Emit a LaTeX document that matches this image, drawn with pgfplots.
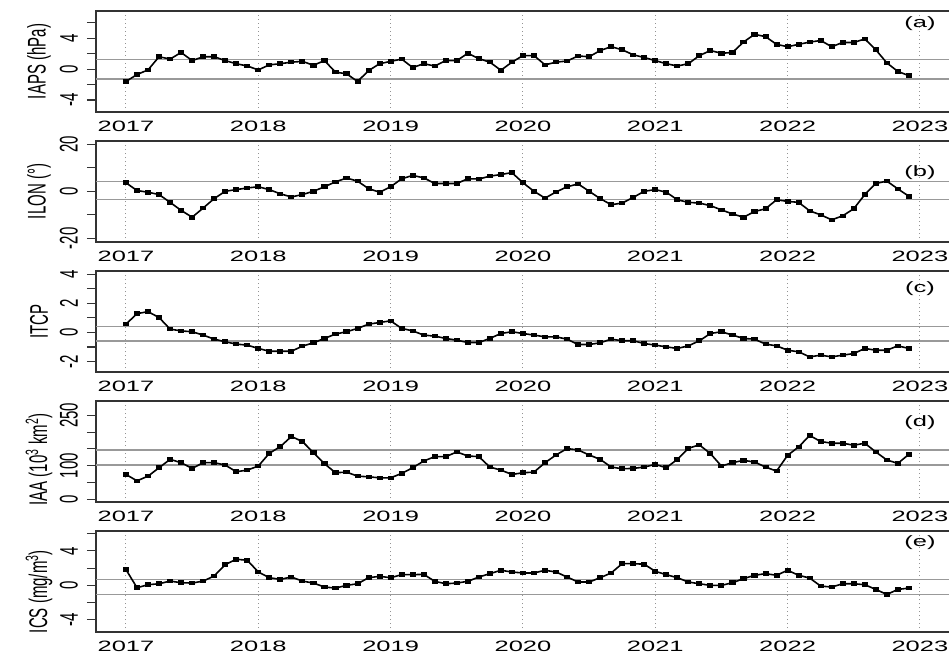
\documentclass[border=0pt]{standalone}
\usepackage{fontspec}
\setmainfont{Liberation Sans}
\usepackage{graphicx}
\usepackage{pgfplots}
\usepackage{pgfplotstable}
\pgfplotsset{compat=1.18}

% text is set wide (horizontal stretch); rotated labels get the stretch across
\newcommand{\hs}[1]{\scalebox{1.7}[1]{#1}}
\newcommand{\vs}[1]{\scalebox{1}[1.7]{#1}}

% monthly indices, Jan 2017 (m=0) to Dec 2022 (m=71)
\pgfplotstableread{
m  iaps   ilon   itcp   iaa   ics
0  -1.6   3.6    0.57   74    1.83
1  -0.7   0.3    1.30   55   -0.27
2  -0.1  -0.4    1.43   69    0.08
3   1.6  -1.4    1.03   94    0.19
4   1.3  -4.7    0.23  119    0.50
5   2.15 -8.1    0.11  109    0.31
6   1.1  -11     0.05   92    0.27
7   1.6  -7.1   -0.18  109    0.50
8   1.6  -3.1   -0.46  109    1.09
9   1.1   0     -0.64  102    2.41
10  0.7   0.7   -0.80   82    3.03
11  0.4   1.4   -0.87   87    2.91
12 -0.1   1.9   -1.10   99    1.55
13  0.55  0.7   -1.29  137    0.89
14  0.7  -1.1   -1.29  157    0.70
15  0.9  -2.4   -1.29  187    0.97
16  1.0  -1.4   -0.94  172    0.50
17  0.5   0     -0.71  139    0.27
18  1.1   1.9   -0.41  106   -0.19
19 -0.4   4.0   -0.11   79   -0.31
20 -0.6   5.6    0.05   81    0.00
21 -1.6   4.3    0.28   69    0.19
22 -0.2   1.1    0.57   67    0.89
23  0.7  -0.4    0.69   64    1.05
24  1.0   1.9    0.80   64    0.89
25  1.3   5.3    0.28   77    1.24
26  0.2   6.7    0.11   94    1.24
27  0.7   5.7   -0.18  114    1.28
28  0.4   3.3   -0.25  127    0.47
29  1.1   3.3   -0.41  127    0.19
30  1.1   3.3   -0.53  141    0.27
31  2.05  5.3   -0.69  129    0.47
32  1.35  5.2   -0.69  127    0.97
33  0.9   6.4   -0.41   96    1.36
34 -0.15  7.1   -0.07   87    1.75
35  0.9   7.9    0.05   74    1.55
36  1.75  3.6   -0.07   79    1.44
37  1.75  0     -0.18   81    1.44
38  0.55 -2.9   -0.30  109    1.75
39  0.9  -0.3   -0.30  132    1.55
40  1.05  1.9   -0.46  151    0.97
41  1.7   3.1   -0.83  147    0.39
42  1.6   0     -0.83  132    0.39
43  2.4  -3.1   -0.71  119    0.89
44  2.9  -5.7   -0.46   96    1.44
45  2.5  -5.0   -0.57   91    2.52
46  1.85 -2.6   -0.57   92    2.52
47  1.5   0     -0.76   96    2.45
48  1.1   0.7   -0.87  104    1.63
49  0.7  -0.4   -0.99   94    1.24
50  0.4  -3.6   -1.10  119    0.89
51  0.7  -4.7   -0.92  152    0.39
52  1.75 -5.0   -0.57  162    0.19
53  2.4  -6.1   -0.07  136    0.00
54  2.05 -7.9    0.05   99    0.00
55  2.15 -9.6   -0.18  109    0.31
56  3.5  -11    -0.41  116    0.78
57  4.5  -8.6   -0.46  111    1.17
58  4.2  -7.4   -0.80   96    1.36
59  3.2  -3.6   -0.92   84    1.17
60  2.9  -4.3   -1.22  131    1.75
61  3.2  -4.7   -1.33  156    1.17
62  3.5  -8.3   -1.68  190    0.85
63  3.7  -10    -1.56  172   -0.08
64  2.9  -12.1  -1.68  167   -0.19
65  3.45 -10.4  -1.56  167    0.19
66  3.45 -7.4   -1.45  161    0.19
67  3.9  -1.4   -1.10  167    0.08
68  2.5   3.3   -1.22  141   -0.47
69  0.8   4.3   -1.22  117   -1.05
70 -0.3   1.0   -0.92  107   -0.47
71 -0.85 -2.1   -1.10  134   -0.31
}\indices

\pgfplotsset{
  panel/.style={
    scale only axis, width=857pt, height=101pt,
    anchor=north west,
    xmin=-2.72, xmax=75,
    xtick={0,12,...,72},
    xticklabels={\hs{2017},\hs{2018},\hs{2019},\hs{2020},\hs{2021},\hs{2022},\hs{2023}},
    xmajorgrids,
    major grid style={gray!85, line width=1pt, dash pattern=on 1pt off 3pt},
    axis line style={draw=black!80, line width=1.3pt},
    xtick style={draw=none},
    ytick style={draw=black!80, line width=1.1pt},
    tick align=outside, ytick pos=left, xtick pos=bottom,
    major tick length=9pt,
    yticklabel style={rotate=90, anchor=south, inner sep=0pt},
    yticklabel shift=9pt,
    xticklabel style={anchor=north, inner sep=0pt},
    every axis y label/.style={at={(rel axis cs:0,0.5)}, xshift=-57pt, rotate=90, anchor=center},
    clip=false,
  },
  refline/.style={black!40, line width=1.2pt, forget plot},
  series/.style={black, line width=1.6pt, mark=square*, mark size=1.5pt,
    mark options={xscale=1.5, fill=black, solid}},
}

\begin{document}
\fontsize{15}{18}\selectfont
\begin{tikzpicture}

% (a) IAPS
\begin{axis}[panel, at={(96pt,-11pt)},
  ymin=-5.55, ymax=7.52,
  ytick={-4,-2,0,2,4,6}, yticklabels={\vs{-4},,\vs{0},,\vs{4},},
  ylabel={\vs{IAPS (hPa)}}]
  \addplot[refline] coordinates {(-2.72,1.29) (75,1.29)};
  \addplot[refline] coordinates {(-2.72,-1.29) (75,-1.29)};
  \addplot[series] table[x=m, y=iaps] {\indices};
  \node at (axis cs:72,5.85) {\hs{(a)}};
\end{axis}

% (b) ILON
\begin{axis}[panel, at={(96pt,-141pt)},
  ymin=-21.5, ymax=21.3,
  ytick={-20,-10,0,10,20}, yticklabels={\vs{-20},,\vs{0},,\vs{20}},
  ylabel={\vs{ILON (°)}}]
  \addplot[refline] coordinates {(-2.72,4.3) (75,4.3)};
  \addplot[refline] coordinates {(-2.72,-3.6) (75,-3.6)};
  \addplot[series] table[x=m, y=ilon] {\indices};
  \node at (axis cs:72,8) {\hs{(b)}};
\end{axis}

% (c) ITCP
\begin{axis}[panel, at={(96pt,-271pt)},
  ymin=-2.72, ymax=4.23,
  ytick={-2,-1,0,1,2,3,4}, yticklabels={\vs{-2},,\vs{0},,\vs{2},,\vs{4}},
  ylabel={\vs{ITCP}}]
  \addplot[refline] coordinates {(-2.72,0.43) (75,0.43)};
  \addplot[refline] coordinates {(-2.72,-0.58) (75,-0.58)};
  \addplot[series] table[x=m, y=itcp] {\indices};
  \node at (axis cs:72,3.0) {\hs{(c)}};
\end{axis}

% (d) IAA
\begin{axis}[panel, at={(96pt,-401pt)},
  ymin=-8, ymax=292.6,
  ytick={0,50,100,150,200,250}, yticklabels={\vs{0},,\vs{100},,,\vs{250}},
  ylabel={\vs{IAA (10\textsuperscript{3} km\textsuperscript{2})}},
  every axis y label/.append style={xshift=-8pt}]
  \addplot[refline] coordinates {(-2.72,147) (75,147)};
  \addplot[refline] coordinates {(-2.72,102) (75,102)};
  \addplot[series] table[x=m, y=iaa] {\indices};
  \node at (axis cs:72,227) {\hs{(d)}};
\end{axis}

% (e) ICS
\begin{axis}[panel, at={(96pt,-531pt)},
  ymin=-5.4, ymax=6.3,
  ytick={-4,-2,0,2,4,6}, yticklabels={\vs{-4},,\vs{0},,\vs{4},},
  ylabel={\vs{ICS (mg/m\textsuperscript{3})}},
  every axis y label/.append style={xshift=-10pt}]
  \addplot[refline] coordinates {(-2.72,0.66) (75,0.66)};
  \addplot[refline] coordinates {(-2.72,-1.09) (75,-1.09)};
  \addplot[series] table[x=m, y=ics] {\indices};
  \node at (axis cs:72,4.9) {\hs{(e)}};
\end{axis}

\pgfresetboundingbox
\useasboundingbox (0,0) rectangle (949pt,-653pt);
\end{tikzpicture}
\end{document}
